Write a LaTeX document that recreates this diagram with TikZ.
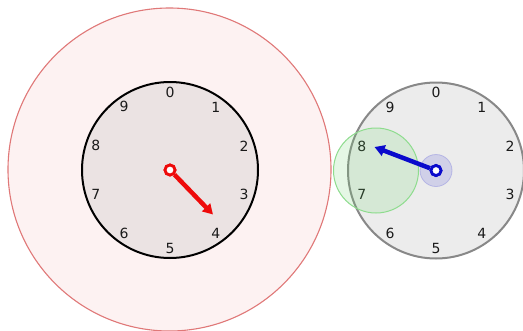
\documentclass[tikz,border=0pt]{standalone}
\usepackage{fontspec}
\setmainfont{DejaVu Sans}
\usetikzlibrary{arrows.meta}
\definecolor{bigfill}{HTML}{FDF2F2}
\definecolor{bigline}{HTML}{E07878}
\definecolor{lfill}{HTML}{EBE3E3}
\definecolor{rfill}{HTML}{ECECEC}
\definecolor{rline}{HTML}{888888}
\definecolor{gline}{HTML}{8EDC8E}
\definecolor{gfill}{HTML}{70D870}
\definecolor{bfill}{HTML}{9090E0}
\definecolor{handred}{HTML}{EE0A0A}
\definecolor{handblue}{HTML}{0A0ACC}
\definecolor{digit}{HTML}{1A1A1A}
\tikzset{
  dial/.style={circle, minimum size=176pt, inner sep=0pt},
  digitlabel/.style={font=\fontsize{14}{14}\selectfont, text=digit, inner sep=0pt},
  hand/.style={line width=4.5pt, -{Triangle[length=10pt,width=11pt]}},
  pivot/.style={circle, minimum size=10pt, inner sep=0pt, fill=white, line width=2.8pt},
}
\begin{document}
\begin{tikzpicture}[x=1pt,y=-1pt]
\useasboundingbox (0,0) rectangle (523,330);
\fill[white] (0,0) rectangle (523,330);
% big red circle
\node[circle, minimum size=323pt, inner sep=0pt, fill=bigfill, draw=bigline, line width=1.1pt] (big) at (169.5,169.5) {};
% left clock
\node[dial, fill=lfill, draw=black, line width=2pt] (lclock) at (170,170) {};
\foreach \i in {0,...,9} {
  \node[digitlabel] (l\i) at ({170+78*sin(36*\i)},{170-78*cos(36*\i)}) {\i};
}
% right clock
\node[dial, fill=rfill, draw=rline, line width=2pt] (rclock) at (436,170.5) {};
\foreach \i in {0,...,9} {
  \node[digitlabel] (r\i) at ({436+78*sin(36*\i)},{170.5-78*cos(36*\i)}) {\i};
}
% green circle
\node[circle, minimum size=85pt, inner sep=0pt, fill=gfill, fill opacity=0.18, draw=gline, line width=1pt, draw opacity=1] (green) at (376,170.5) {};
% blue small circle
\node[circle, minimum size=32pt, inner sep=0pt, fill=bfill, fill opacity=0.3, draw=bfill, draw opacity=0.5, line width=0.8pt] (bluedisc) at (436,170.5) {};
% hands
\coordinate (ltip) at (213,214.5);
\coordinate (rtip) at (374.5,147);
\node[pivot, draw=handred] (lpiv) at (170,170) {};
\draw[hand, handred] (lpiv) -- (ltip);
\node[pivot, draw=handred] at (170,170) {};
\node[pivot, draw=handblue] (rpiv) at (436,170.5) {};
\draw[hand, handblue] (rpiv) -- (rtip);
\node[pivot, draw=handblue] at (436,170.5) {};
\end{tikzpicture}
\end{document}
